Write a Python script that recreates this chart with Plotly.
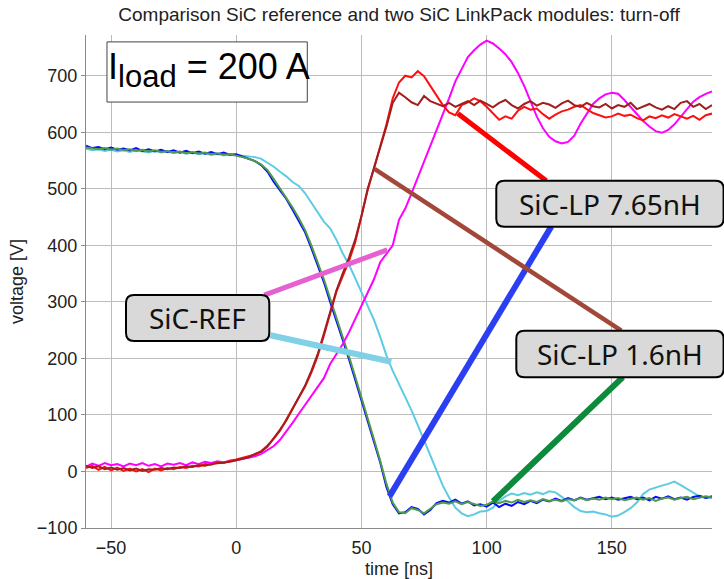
import plotly.graph_objects as go

# ---------------- data ----------------
t = [-60, -57.5, -55, -52.5, -50, -47.5, -45, -42.5, -40, -37.5, -35, -32.5, -30, -27.5, -25, -22.5,
     -20, -17.5, -15, -12.5, -10, -7.5, -5, -2.5, 0, 2.5, 5, 7.5, 10, 12.5, 15, 17.5, 20, 22.5, 25,
     27.5, 30, 32.5, 35, 37.5, 40, 42.5, 45, 47.5, 50, 52.5, 55, 57.5, 60, 62.5, 65, 67.5, 70, 72.5,
     75, 77.5, 80, 82.5, 85, 87.5, 90, 92.5, 95, 97.5, 100, 102.5, 105, 107.5, 110, 112.5, 115, 117.5,
     120, 122.5, 125, 127.5, 130, 132.5, 135, 137.5, 140, 142.5, 145, 147.5, 150, 152.5, 155, 157.5,
     160, 162.5, 165, 167.5, 170, 172.5, 175, 177.5, 180, 182.5, 185, 187.5, 190]

# SiC-LP 7.65nH, falling voltage (blue)
lp765_fall = [576, 572, 574, 570, 573, 569, 571, 568, 572, 567, 570, 566, 569, 565, 568, 564,
              567, 563, 566, 562, 565, 561, 564, 560, 561, 557, 554, 549, 542, 530, 512, 497, 482, 463, 444,
              423, 395, 366, 335, 300, 268, 233, 199, 163, 127, 92, 52, 16, -28, -58, -74, -72, -63, -66,
              -76, -68, -56, -52, -55, -50, -57, -53, -60, -58, -62, -55, -63, -57, -61, -54, -58, -52,
              -56, -50, -53, -48, -52, -47, -51, -46, -50, -48, -45, -49, -46, -50, -47, -45,
              -49, -46, -51, -45, -48, -44, -49, -46, -50, -45, -43, -47, -44]
# SiC-LP 1.6nH, falling voltage (green)
lp16_fall = [573, 571, 570, 572, 569, 571, 568, 570, 567, 569, 566, 568, 565, 567, 564, 566,
             563, 565, 562, 564, 561, 563, 560, 561, 559, 556, 553, 549, 543, 533, 517, 501, 485, 467, 448,
             427, 400, 371, 340, 306, 273, 239, 204, 168, 132, 96, 57, 19, -22, -55, -72, -74, -65, -68,
             -74, -66, -58, -55, -57, -53, -58, -54, -57, -61, -59, -53, -56, -52, -55, -50, -54, -51,
             -54, -49, -52, -50, -53, -49, -51, -47, -51, -48, -50, -46, -49, -47, -51, -48,
             -46, -50, -47, -52, -48, -46, -50, -47, -45, -49, -46, -44, -46]
# SiC-REF, falling voltage (light blue)
ref_fall = [571, 568, 570, 567, 569, 566, 568, 565, 568, 566, 564, 567, 564, 566, 563, 565,
            562, 564, 561, 563, 560, 562, 559, 561, 560, 559, 557, 556, 553, 546, 539, 530, 522, 512, 505,
            492, 476, 458, 442, 430, 410, 386, 366, 342, 318, 292, 268, 238, 205, 178, 155, 130, 108, 82,
            56, 30, 4, -25, -46, -64, -74, -79, -76, -71, -70, -64, -52, -44, -39, -42, -38, -41,
            -37, -40, -35, -37, -45, -53, -63, -70, -72, -71, -74, -76, -80, -78, -72, -65,
            -55, -40, -32, -28, -25, -22, -18, -24, -31, -38, -44, -46, -47]
# SiC-LP 7.65nH, rising voltage (red)
lp765_rise = [6, 10, 3, 8, 2, 7, 1, 5, 0, 4, -1, 5, 2, 6, 4, 8,
              6, 10, 9, 13, 12, 16, 15, 19, 21, 24, 27, 30, 36, 46, 58, 72, 92, 112, 132,
              150, 175, 204, 240, 280, 318, 345, 372, 405, 450, 498, 536, 575, 614, 660, 688, 700, 697, 708,
              699, 682, 664, 648, 635, 630, 648, 653, 660, 655, 645, 634, 622, 628, 624, 638, 645, 640,
              642, 632, 624, 631, 637, 640, 645, 648, 641, 634, 630, 626, 628, 633, 629, 631,
              625, 621, 628, 625, 630, 626, 632, 628, 624, 629, 622, 630, 633]
# SiC-LP 1.6nH, rising voltage (dark red)
lp16_rise = [10, 6, 9, 4, 7, 3, 6, 2, 5, 1, 4, 3, 6, 4, 7, 6,
             9, 8, 11, 10, 13, 14, 16, 17, 20, 23, 25, 31, 35, 44, 58, 74, 90, 110, 130,
             152, 178, 207, 244, 283, 320, 350, 378, 410, 452, 500, 537, 575, 610, 652, 670, 662, 653, 648,
             664, 655, 650, 646, 652, 645, 650, 655, 648, 656, 650, 644, 652, 657, 648, 642, 650, 655,
             647, 652, 649, 643, 651, 656, 648, 645, 652, 646, 644, 650, 642, 648, 645, 652,
             641, 646, 650, 644, 640, 646, 641, 652, 655, 645, 650, 641, 648]
# SiC-REF, rising voltage (magenta)
ref_rise = [8, 14, 10, 15, 11, 13, 9, 14, 11, 15, 10, 13, 9, 14, 12, 15,
            11, 16, 13, 17, 15, 18, 16, 19, 20, 22, 25, 27, 31, 38, 45, 56, 70, 86, 102,
            118, 132, 148, 165, 190, 208, 225, 246, 270, 295, 318, 340, 370, 386, 400, 445, 465, 492, 520,
            548, 575, 602, 632, 660, 690, 712, 733, 745, 755, 762, 757, 748, 738, 724, 705, 682, 655,
            628, 607, 592, 584, 580, 583, 594, 615, 632, 650, 660, 667, 670, 668, 657, 645,
            632, 620, 610, 602, 599, 604, 614, 628, 640, 654, 662, 668, 672]

series_names = ["SiC-REF (off)", "SiC-LP 7.65nH (off)", "SiC-LP 1.6nH (off)",
                "SiC-REF (on)", "SiC-LP 7.65nH (on)", "SiC-LP 1.6nH (on)"]
series_vals = [ref_fall, lp765_fall, lp16_fall, ref_rise, lp765_rise, lp16_rise]
series_colors = ["#5ccbe3", "#0a0aff", "#4f9b4c", "#ff00ff", "#ff1010", "#a01e1e"]

x_range = [-60, 190]
y_range = [-100, 772]
x_ticks = [-50, 0, 50, 100, 150]
y_ticks = [-100, 0, 100, 200, 300, 400, 500, 600, 700]

# callout labels: (text, box x0, x1, y0, y1 in paper units)
labels = ["SiC-REF", "SiC-LP 7.65nH", "SiC-LP 1.6nH"]
label_boxes = [(0.0639, 0.2928, 0.3793, 0.4726),
               (0.6554, 1.0185, 0.6112, 0.7045),
               (0.6874, 1.0185, 0.3057, 0.4002)]
# leader lines: (x_start, y_start, x_end, y_end) in data units, colour, width
leaders = [((11.2, 312), (60.3, 392), "#e660d2", 5),
           ((13.6, 241), (61.9, 194), "#80d0e6", 6),
           ((123.8, 514), (88.5, 633), "#ff0000", 5),
           ((125.8, 433), (61.2, -44), "#2b3ff2", 6),
           ((153.8, 249), (55.2, 535), "#a2483a", 4.5),
           ((154.4, 167), (102.5, -53), "#0e8a3c", 6)]

fig = go.Figure()
for name, vals, col in zip(series_names, series_vals, series_colors):
    fig.add_trace(go.Scatter(x=t, y=vals, mode="lines", name=name,
                             line=dict(color=col, width=2), showlegend=False))

shapes = []
for (p0, p1, col, w) in leaders:
    shapes.append(dict(type="line", xref="x", yref="y", x0=p0[0], y0=p0[1], x1=p1[0], y1=p1[1],
                       line=dict(color=col, width=w), layer="above"))

W_PLOT, H_PLOT = 626, 493
def rounded(x0, x1, y0, y1, r=8):
    rx, ry = r / W_PLOT, r / H_PLOT
    return (f"M {x0+rx},{y0} L {x1-rx},{y0} Q {x1},{y0} {x1},{y0+ry} L {x1},{y1-ry} "
            f"Q {x1},{y1} {x1-rx},{y1} L {x0+rx},{y1} Q {x0},{y1} {x0},{y1-ry} "
            f"L {x0},{y0+ry} Q {x0},{y0} {x0+rx},{y0} Z")

annotations = []
for text, (x0, x1, y0, y1) in zip(labels, label_boxes):
    shapes.append(dict(type="path", xref="paper", yref="paper", path=rounded(x0, x1, y0, y1),
                       fillcolor="#d9d9d9", line=dict(color="black", width=2), layer="above"))
    annotations.append(dict(xref="paper", yref="paper", x=(x0 + x1) / 2, y=(y0 + y1) / 2,
                            text=text, showarrow=False, xanchor="center", yanchor="middle",
                            font=dict(family="Noto Sans", size=28, color="#111")))

# I_load box
shapes.append(dict(type="rect", xref="paper", yref="paper", x0=0.0335, x1=0.3535, y0=0.864, y1=0.986,
                   fillcolor="white", line=dict(color="#444", width=1), layer="above"))
annotations.append(dict(xref="paper", yref="paper", x=0.196, y=0.928,
                        text="I<sub><span style='font-size:31px'>load</span></sub> = 200 A",
                        showarrow=False, xanchor="center", yanchor="middle",
                        font=dict(family="Liberation Sans", size=36, color="black")))

axis_common = dict(showgrid=True, gridcolor="#bcbcbc", gridwidth=1, zeroline=False,
                   showline=True, linecolor="#8a8a8a", linewidth=1, automargin=False,
                   tickfont=dict(family="Liberation Sans", size=18, color="#222"),
                   title_font=dict(family="Liberation Sans", size=18, color="#222"))

fig.update_layout(
    width=724, height=579,
    margin=dict(l=86, r=12, t=35, b=51),
    paper_bgcolor="white", plot_bgcolor="white",
    title=dict(text="Comparison SiC reference and two SiC LinkPack modules: turn-off",
               x=0.5, xanchor="center", xref="paper", y=1 - 14 / 579, yanchor="middle",
               font=dict(family="Liberation Sans", size=19, color="#222")),
    xaxis=dict(range=x_range, tickvals=x_ticks, ticks="", ticklabelstandoff=3,
               title=dict(text="time [ns]", standoff=6), **axis_common),
    yaxis=dict(range=y_range, tickvals=y_ticks, ticks="outside", ticklen=4, tickcolor="#8a8a8a",
               title=dict(text="voltage [V]", standoff=8), **axis_common),
    shapes=shapes, annotations=annotations,
)

fig.write_html("out.html")
